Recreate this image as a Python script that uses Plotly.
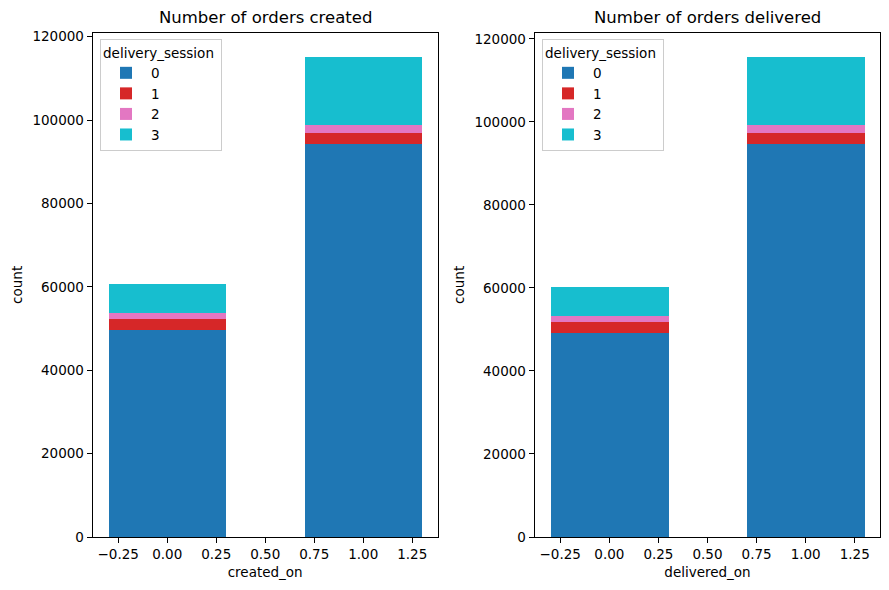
import plotly.graph_objects as go

sessions = ["0", "1", "2", "3"]
x_positions = [0, 1]
colors = ["#1f77b4", "#d62728", "#e377c2", "#17becf"]

created_counts = {
    "0": [49700, 94300],
    "1": [2750, 2700],
    "2": [1450, 1900],
    "3": [6900, 16300],
}
delivered_counts = {
    "0": [49300, 94700],
    "1": [2600, 2700],
    "2": [1500, 1900],
    "3": [7000, 16400],
}
x_ticks = [-0.25, 0.0, 0.25, 0.5, 0.75, 1.0, 1.25]
y_ticks = [0, 20000, 40000, 60000, 80000, 100000, 120000]

W, H = 889, 590
FONT = "DejaVu Sans"

fig = go.Figure()
for s, c in zip(sessions, colors):
    fig.add_trace(go.Bar(x=x_positions, y=created_counts[s], width=0.6, name=s,
                         marker=dict(color=c, line=dict(width=0)),
                         xaxis="x", yaxis="y", legend="legend"))
for s, c in zip(sessions, colors):
    fig.add_trace(go.Bar(x=x_positions, y=delivered_counts[s], width=0.6, name=s,
                         marker=dict(color=c, line=dict(width=0)),
                         xaxis="x2", yaxis="y2", legend="legend2"))

def tot(d):
    return [sum(d[s][i] for s in sessions) for i in range(len(x_positions))]

ymax1 = max(tot(created_counts)) * 1.05
ymax2 = max(tot(delivered_counts)) * 1.05

ax_common = dict(showline=True, linecolor="black", linewidth=1.1, mirror=True,
                 ticks="outside", ticklen=5, tickwidth=1.1, tickcolor="black",
                 showgrid=False, zeroline=False,
                 tickfont=dict(family=FONT, size=13.5, color="black"))

x1d = [92.7 / W, 437.7 / W]
x2d = [534.7 / W, 880.3 / W]
yd = [1 - 537 / H, 1 - 32.7 / H]

fig.update_layout(
    width=W, height=H,
    margin=dict(l=0, r=0, t=0, b=0, autoexpand=False),
    paper_bgcolor="white", plot_bgcolor="white",
    barmode="stack", bargap=0,
    font=dict(family=FONT, size=13.5, color="black"),
    xaxis=dict(domain=x1d, range=[-0.38, 1.38], tickvals=x_ticks, tickformat=".2f",
               title=dict(text="created_on", font=dict(size=13.5), standoff=6), anchor="y", **ax_common),
    yaxis=dict(domain=yd, range=[0, ymax1], tickvals=y_ticks, tickformat="d",
               title=dict(text="count", font=dict(size=13.5), standoff=6), anchor="x", **ax_common),
    xaxis2=dict(domain=x2d, range=[-0.38, 1.38], tickvals=x_ticks, tickformat=".2f",
                title=dict(text="delivered_on", font=dict(size=13.5), standoff=6), anchor="y2", **ax_common),
    yaxis2=dict(domain=yd, range=[0, ymax2], tickvals=y_ticks, tickformat="d",
                title=dict(text="count", font=dict(size=13.5), standoff=6), anchor="x2", **ax_common),
    legend=dict(x=100 / W, y=1 - 39 / H, xanchor="left", yanchor="top",
                bgcolor="rgba(255,255,255,0.8)", bordercolor="#cccccc", borderwidth=1,
                title=dict(text="delivery_session ", font=dict(size=13.5)),
                font=dict(size=13.5), traceorder="normal", tracegroupgap=0, itemwidth=40),
    legend2=dict(x=542 / W, y=1 - 39 / H, xanchor="left", yanchor="top",
                 bgcolor="rgba(255,255,255,0.8)", bordercolor="#cccccc", borderwidth=1,
                 title=dict(text="delivery_session ", font=dict(size=13.5)),
                 font=dict(size=13.5), traceorder="normal", tracegroupgap=0, itemwidth=40),
    annotations=[
        dict(text="Number of orders created", x=(x1d[0] + x1d[1]) / 2, y=1 - 18 / H,
             xref="paper", yref="paper", xanchor="center", yanchor="middle",
             showarrow=False, font=dict(size=16.5)),
        dict(text="Number of orders delivered", x=(x2d[0] + x2d[1]) / 2, y=1 - 18 / H,
             xref="paper", yref="paper", xanchor="center", yanchor="middle",
             showarrow=False, font=dict(size=16.5)),
    ],
)

fig.write_html("out.html", config={"displayModeBar": False},
               post_script="document.body.style.margin='0';document.body.style.padding='0';")
